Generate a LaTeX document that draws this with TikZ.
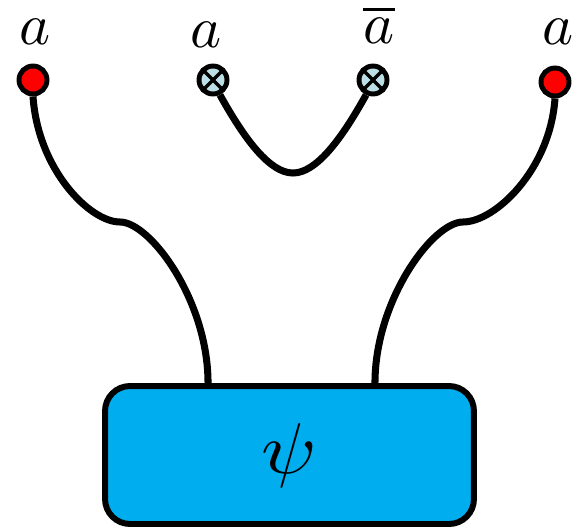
\documentclass[tikz,border=0pt]{standalone}
\usetikzlibrary{calc}

\definecolor{cDot}{HTML}{FF0000}
\definecolor{cCross}{HTML}{BBDFE4}
\definecolor{cBox}{HTML}{00AEEF}

\tikzset{
  reddot/.style={circle, fill=cDot, draw=black, line width=2.8pt,
    minimum size=0.56cm, inner sep=0pt},
  crossdot/.style={circle, fill=cCross, draw=black, line width=2.8pt,
    minimum size=0.56cm, inner sep=0pt,
    path picture={
      \draw[black, line width=1.9pt]
        (path picture bounding box.north west) -- (path picture bounding box.south east)
        (path picture bounding box.south west) -- (path picture bounding box.north east);
    }},
  wire/.style={black, line width=4pt},
  lbl/.style={inner sep=0pt, anchor=base, scale=3.35},
  statebox/.style={rectangle, rounded corners=0.5cm, fill=cBox, draw=black,
    line width=3.4pt, minimum width=7.38cm, minimum height=2.76cm}
}

\begin{document}
\begin{tikzpicture}[x=0.02cm, y=-0.02cm]

  \useasboundingbox (0,0) rectangle (578,531);

  % --------------------------------------------------------------------------
  % Open ends and the cup
  % --------------------------------------------------------------------------
  \node[reddot]   (dL) at ( 33,80) {};
  \node[crossdot] (xL) at (213,80) {};
  \node[crossdot] (xR) at (373,80) {};
  \node[reddot]   (dR) at (555,82) {};

  \node[lbl] (lL)  at ( 35,44) {$a$};
  \node[lbl] (lxL) at (206,47) {$a$};
  \node[lbl] (lxR) at (379,43) {$\overline{a}$};
  \node[lbl] (lR)  at (558,44) {$a$};

  \draw[wire] (xL.-65) .. controls (245,140) and (270,173) .. (293,173)
                       .. controls (316,173) and (341,140) .. (xR.-115);

  % --------------------------------------------------------------------------
  % The state and its two legs
  % --------------------------------------------------------------------------
  \node[statebox] (psi) at (289.5,455) {\scalebox{4.6}[4.1]{$\psi$}};
  \coordinate (inL) at ([xshift=2.12cm]psi.north west);
  \coordinate (inR) at ([xshift=-2.04cm]psi.north east);

  \draw[wire] (dL.south) .. controls ( 38,170) and ( 90,222) .. (120,222)
                         .. controls (150,222) and (208,300) .. (inL);
  \draw[wire] (dR.south) .. controls (550,170) and (495,222) .. (463,222)
                         .. controls (433,222) and (375,300) .. (inR);

\end{tikzpicture}
\end{document}
